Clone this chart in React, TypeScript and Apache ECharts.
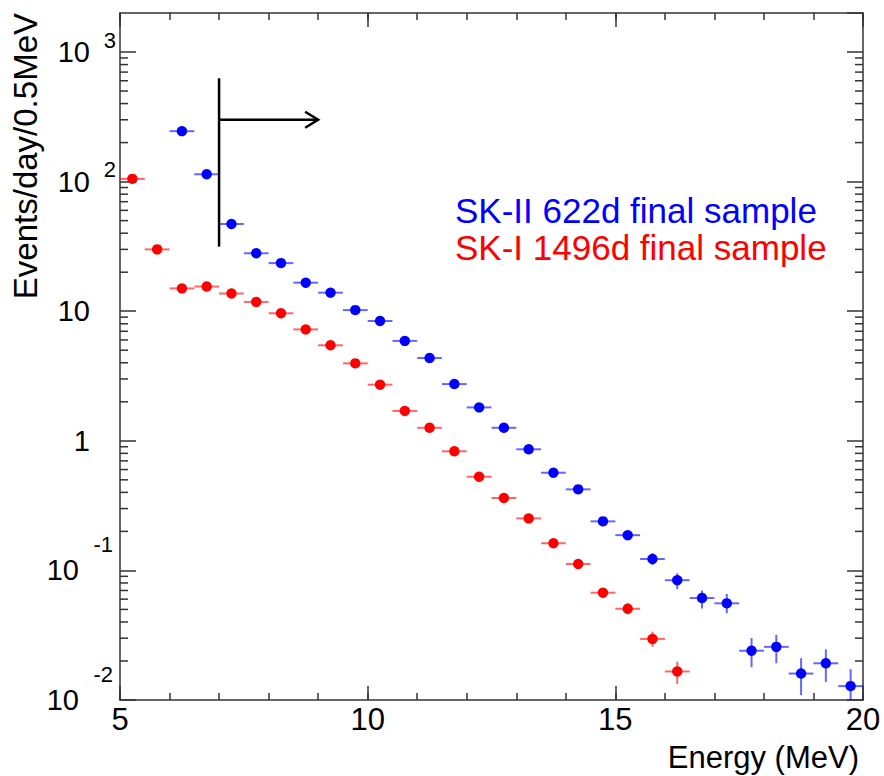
import React, { useEffect, useRef } from 'react';
import * as echarts from 'echarts';

// ---- data ----
const skIIEnergy = [6.25, 6.75, 7.25, 7.75, 8.25, 8.75, 9.25, 9.75, 10.25, 10.75, 11.25, 11.75, 12.25, 12.75, 13.25, 13.75, 14.25, 14.75, 15.25, 15.75, 16.25, 16.75, 17.25, 17.75, 18.25, 18.75, 19.25, 19.75];
const skIIRate = [245, 114, 47.1, 28.0, 23.5, 16.6, 13.9, 10.2, 8.4, 5.9, 4.35, 2.74, 1.81, 1.26, 0.86, 0.567, 0.422, 0.239, 0.187, 0.1225, 0.084, 0.0612, 0.0557, 0.024, 0.0257, 0.016, 0.0192, 0.0128];
const skIILow = [243, 113, 46.6, 27.6, 23.1, 16.3, 13.6, 10.0, 8.2, 5.75, 4.22, 2.65, 1.74, 1.2, 0.82, 0.535, 0.395, 0.222, 0.172, 0.11, 0.0715, 0.0508, 0.0467, 0.0179, 0.0192, 0.0109, 0.0138, 0.0085];
const skIIHigh = [247, 115, 47.6, 28.4, 23.9, 16.9, 14.2, 10.4, 8.6, 6.05, 4.48, 2.83, 1.88, 1.32, 0.9, 0.6, 0.45, 0.256, 0.203, 0.136, 0.095, 0.07, 0.0658, 0.0301, 0.0318, 0.021, 0.0246, 0.0173];

const skIEnergy = [5.25, 5.75, 6.25, 6.75, 7.25, 7.75, 8.25, 8.75, 9.25, 9.75, 10.25, 10.75, 11.25, 11.75, 12.25, 12.75, 13.25, 13.75, 14.25, 14.75, 15.25, 15.75, 16.25];
const skIRate = [105, 30.0, 15.0, 15.5, 13.7, 11.8, 9.64, 7.24, 5.46, 3.96, 2.71, 1.7, 1.26, 0.83, 0.528, 0.362, 0.252, 0.162, 0.112, 0.0673, 0.0506, 0.0296, 0.0166];
const skILow = [104, 29.7, 14.8, 15.3, 13.5, 11.6, 9.5, 7.1, 5.35, 3.88, 2.64, 1.65, 1.22, 0.8, 0.505, 0.344, 0.237, 0.151, 0.103, 0.062, 0.0458, 0.0258, 0.0133];
const skIHigh = [106, 30.3, 15.2, 15.7, 13.9, 12.0, 9.78, 7.38, 5.57, 4.04, 2.78, 1.75, 1.3, 0.86, 0.551, 0.38, 0.267, 0.173, 0.121, 0.0726, 0.056, 0.0337, 0.0198];

const binHalfWidth = 0.25;
const xMin = 5;
const xMax = 20;
const yMin = 0.01;
const yMax = 2000;
const yDecades = [0.01, 0.1, 1, 10, 100, 1000];
const yMinorMantissas = [2, 3, 4, 5, 6, 7, 8, 9];

const thresholdEnergy = 7;
const thresholdLow = 31.5;
const thresholdHigh = 627;
const arrowLevel = 300;
const arrowEnd = 9;

const legendSKII = 'SK-II 622d final sample';
const legendSKI = 'SK-I 1496d final sample';
const xTitle = 'Energy (MeV)';
const yTitle = 'Events/day/0.5MeV';

const FONT = '"Liberation Sans", Arial, Helvetica, sans-serif';
const FRAME = '#333';

const yMinorTicks: number[] = [];
yDecades.forEach((d) => yMinorMantissas.forEach((m) => { if (d * m < yMax) yMinorTicks.push(d * m); }));

function pointSeries(name: string, energy: number[], rate: number[], low: number[], high: number[], color: string, barColor: string) {
  return {
    type: 'custom',
    name,
    clip: true,
    silent: true,
    xAxisIndex: 0,
    yAxisIndex: 0,
    data: energy.map((e, i) => [e, rate[i], low[i], high[i]]),
    encode: { x: 0, y: 1 },
    renderItem: (_p: any, api: any) => {
      const e = api.value(0);
      const v = api.value(1);
      const lo = api.value(2);
      const hi = api.value(3);
      const c = api.coord([e, v]);
      const l = api.coord([e - binHalfWidth, v]);
      const r = api.coord([e + binHalfWidth, v]);
      const pl = api.coord([e, lo]);
      const ph = api.coord([e, hi]);
      return {
        type: 'group',
        children: [
          { type: 'line', shape: { x1: l[0], y1: c[1], x2: r[0], y2: c[1] }, style: { stroke: barColor, lineWidth: 2 } },
          { type: 'line', shape: { x1: c[0], y1: ph[1], x2: c[0], y2: pl[1] }, style: { stroke: barColor, lineWidth: 2 } },
          { type: 'circle', shape: { cx: c[0], cy: c[1], r: 5.2 }, style: { fill: color } },
        ],
      };
    },
  };
}

function decade(v: number): number | null {
  const lg = Math.log10(v);
  const e = Math.round(lg);
  return Math.abs(lg - e) > 1e-6 ? null : e;
}

// mantissa part of the y labels ("1", "10")
function yBaseLabel(v: number) {
  const e = decade(v);
  if (e === null) return '';
  if (e === 0) return '{p|1}';
  if (e < 0) return '{q|10}';
  return '{p|10}';
}

// exponent part of the y labels (drawn by a second, label-only axis)
function yExpLabel(v: number) {
  const e = decade(v);
  if (e === null || e === 0 || e === 1) return '';
  return e > 0 ? '{sp|' + e + '}' : '{sn|' + e + '}';
}

export default function App() {
  const ref = useRef<HTMLDivElement>(null);
  useEffect(() => {
    if (!ref.current) return;
    const chart = echarts.init(ref.current, undefined, { renderer: 'svg' });
    const lineStyle = { color: FRAME, width: 1.5 };
    const baseX = {
      type: 'value', min: xMin, max: xMax, splitLine: { show: false },
    };
    const baseY = {
      type: 'log', logBase: 10, min: yMin, max: yMax, splitLine: { show: false }, minorTick: { show: false },
    };
    chart.setOption({
      animation: false,
      backgroundColor: '#fff',
      grid: { left: 120, top: 13, right: 21, bottom: 76, containLabel: false },
      legend: {
        show: true,
        orient: 'vertical',
        left: 450,
        top: 193,
        padding: 0,
        icon: 'none',
        itemWidth: 0,
        itemHeight: 0,
        itemGap: 2,
        selectedMode: false,
        textStyle: { fontSize: 35, fontFamily: FONT, lineHeight: 35 },
        data: [
          { name: legendSKII, textStyle: { color: '#0000ff' } },
          { name: legendSKI, textStyle: { color: '#ff0000' } },
        ],
      },
      xAxis: [
        {
          ...baseX, interval: 5, position: 'bottom',
          axisLine: { show: true, onZero: false, lineStyle },
          axisTick: { show: true, inside: true, length: 14, lineStyle },
          axisLabel: { show: true, fontSize: 31, fontFamily: FONT, color: '#000', margin: 4 },
        },
        {
          ...baseX, interval: 1, position: 'bottom',
          axisLine: { show: false, onZero: false },
          axisTick: { show: true, inside: true, length: 7, lineStyle },
          axisLabel: { show: false },
        },
        {
          ...baseX, interval: 5, position: 'top',
          axisLine: { show: true, onZero: false, lineStyle },
          axisTick: { show: true, inside: true, length: 14, lineStyle },
          axisLabel: { show: false },
        },
        {
          ...baseX, interval: 1, position: 'top',
          axisLine: { show: false, onZero: false },
          axisTick: { show: true, inside: true, length: 7, lineStyle },
          axisLabel: { show: false },
        },
      ],
      yAxis: [
        {
          ...baseY, position: 'left',
          axisLine: { show: true, onZero: false, lineStyle },
          axisTick: { show: true, inside: true, length: 16, lineStyle },
          axisLabel: {
            show: true, margin: 4, showMaxLabel: false, formatter: yBaseLabel,
            rich: {
              p: { fontSize: 29, fontFamily: FONT, color: '#000', padding: [0, 26, 0, 0] },
              q: { fontSize: 29, fontFamily: FONT, color: '#000', padding: [0, 37, 0, 0] },
            },
          },
        },
        {
          ...baseY, position: 'right',
          axisLine: { show: true, onZero: false, lineStyle },
          axisTick: { show: true, inside: true, length: 16, lineStyle },
          axisLabel: { show: false },
        },
        {
          ...baseY, position: 'left',
          axisLine: { show: false, onZero: false },
          axisTick: { show: false },
          axisLabel: {
            show: true, margin: 4, showMaxLabel: false, formatter: yExpLabel,
            rich: {
              sp: { fontSize: 22, fontFamily: FONT, color: '#000', padding: [0, 0, 24, 0] },
              sn: { fontSize: 22, fontFamily: FONT, color: '#000', padding: [0, 3, 51, 0] },
            },
          },
        },
      ],
      graphic: [
        {
          type: 'text', x: 25, y: 13, rotation: Math.PI / 2,
          style: { text: yTitle, fontSize: 33, fontFamily: FONT, fill: '#000', align: 'right', verticalAlign: 'middle' },
        },
        {
          type: 'text', x: 859, y: 757,
          style: { text: xTitle, fontSize: 31, fontFamily: FONT, fill: '#000', align: 'right', verticalAlign: 'middle' },
        },
      ],
      series: [
        {
          type: 'custom',
          name: 'yMinorTicks',
          silent: true,
          xAxisIndex: 0,
          yAxisIndex: 0,
          data: yMinorTicks.map((v) => [xMin, v]),
          encode: { x: 0, y: 1 },
          renderItem: (_p: any, api: any) => {
            const v = api.value(1);
            const a = api.coord([xMin, v]);
            const b = api.coord([xMax, v]);
            return {
              type: 'group',
              children: [
                { type: 'line', shape: { x1: a[0], y1: a[1], x2: a[0] + 8, y2: a[1] }, style: { stroke: FRAME, lineWidth: 1.5 } },
                { type: 'line', shape: { x1: b[0] - 8, y1: b[1], x2: b[0], y2: b[1] }, style: { stroke: FRAME, lineWidth: 1.5 } },
              ],
            };
          },
        },
        pointSeries(legendSKI, skIEnergy, skIRate, skILow, skIHigh, '#ff0000', 'rgba(255,0,0,0.6)'),
        pointSeries(legendSKII, skIIEnergy, skIIRate, skIILow, skIIHigh, '#0000ff', 'rgba(0,0,255,0.6)'),
        {
          type: 'custom',
          name: 'threshold',
          silent: true,
          xAxisIndex: 0,
          yAxisIndex: 0,
          data: [[thresholdEnergy, arrowLevel]],
          encode: { x: 0, y: 1 },
          renderItem: (_p: any, api: any) => {
            const top = api.coord([thresholdEnergy, thresholdHigh]);
            const bot = api.coord([thresholdEnergy, thresholdLow]);
            const s = api.coord([thresholdEnergy, arrowLevel]);
            const t = api.coord([arrowEnd, arrowLevel]);
            const st = { stroke: '#000', lineWidth: 2.5, fill: 'none' };
            return {
              type: 'group',
              children: [
                { type: 'line', shape: { x1: top[0], y1: top[1], x2: bot[0], y2: bot[1] }, style: st },
                { type: 'line', shape: { x1: s[0], y1: s[1], x2: t[0], y2: t[1] }, style: st },
                { type: 'polyline', shape: { points: [[t[0] - 13, t[1] - 8], [t[0], t[1]], [t[0] - 13, t[1] + 8]] }, style: st },
              ],
            };
          },
        },
      ],
    });
    return () => chart.dispose();
  }, []);
  return <div ref={ref} style={{ position: 'fixed', left: 0, top: 0, width: 884, height: 776, background: '#fff' }} />;
}
